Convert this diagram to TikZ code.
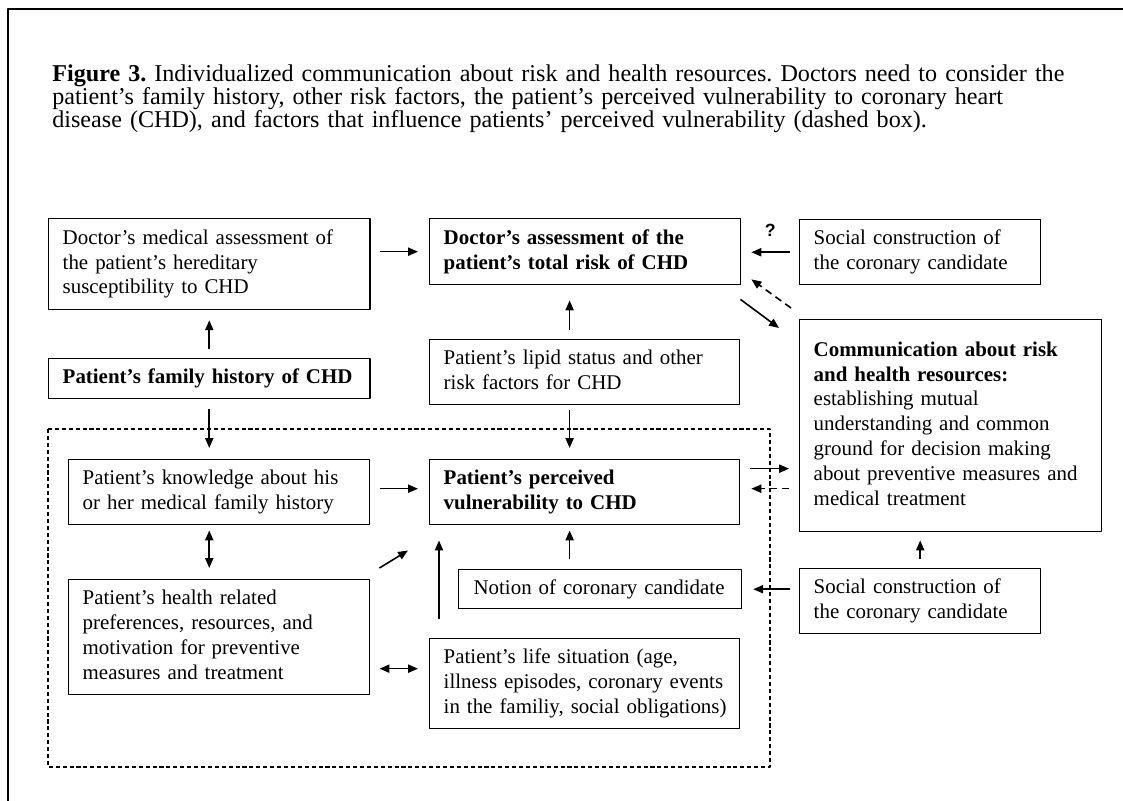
\documentclass[tikz,border=0pt]{standalone}
\usepackage{fontspec}
\setmainfont{Liberation Serif}
\setsansfont{Liberation Sans}
\usetikzlibrary{arrows.meta,calc}
\newcommand{\boxtext}[1]{\begin{tabular}{@{}l@{}}#1\end{tabular}}
\tikzset{
  pbox/.style={draw, line width=0.8pt, anchor=north west, align=left, inner xsep=7.9pt, inner ysep=0pt, font=\fontsize{11.8pt}{14pt}\selectfont},
  boldbox/.style={pbox, font=\fontsize{11.8pt}{14pt}\selectfont\bfseries},
  arr/.style={-{Triangle[length=5.6pt,width=4.6pt]}, line width=0.9pt},
  dblarr/.style={{Triangle[length=5.6pt,width=4.6pt]}-{Triangle[length=5.6pt,width=4.6pt]}, line width=0.9pt},
  dasharr/.style={arr, dash pattern=on 4pt off 2.8pt},
  region/.style={line width=0.6pt, dash pattern=on 2.3pt off 1.6pt}
}
\begin{document}
\begin{tikzpicture}[x=0.564pt, y=-0.564pt, line join=round]
\useasboundingbox (0,0) rectangle (1123,801);
% frame and caption
\draw[line width=0.6pt] (8,801) -- (8,9) -- (1123,9);
\node[anchor=north west, inner sep=0pt, text width=640pt, align=left, font=\fontsize{13.6pt}{13pt}\selectfont\frenchspacing] (caption) at (52,64)
  {\textbf{Figure 3.} Individualized communication about risk and health resources. Doctors need to consider the\\
   patient's family history, other risk factors, the patient's perceived vulnerability to coronary heart\\
   disease (CHD), and factors that influence patients' perceived vulnerability (dashed box).};
% dashed region
\draw[region] (48,429) rectangle (770,767);
% boxes
\node[pbox, text width=165.3pt, minimum height=51.3pt] (hered) at (48,218)
  {\boxtext{Doctor's medical assessment of\\ the patient's hereditary\\ susceptibility to CHD}};
\node[boldbox, text width=165.3pt, minimum height=22.6pt] (famhist) at (48,358)
  {\boxtext{Patient's family history of CHD}};
\node[boldbox, text width=159.6pt, minimum height=37.2pt] (doctor) at (429,218)
  {\boxtext{Doctor's assessment of the\\ patient's total risk of CHD}};
\node[pbox, text width=120.1pt, minimum height=36.7pt] (social1) at (799,219)
  {\boxtext{Social construction of\\ the coronary candidate}};
\node[pbox, text width=159pt, minimum height=36.7pt] (lipid) at (429,339)
  {\boxtext{Patient's lipid status and other\\ risk factors for CHD}};
\node[pbox, text width=154.5pt, minimum height=119.6pt] (comm) at (799,319)
  {\boxtext{\textbf{Communication about risk}\\ \textbf{and health resources:}\\ establishing mutual\\ understanding and common\\ ground for decision making\\ about preventive measures and\\ medical treatment}};
\node[pbox, text width=154pt, minimum height=36.7pt] (knowledge) at (68,459)
  {\boxtext{Patient's knowledge about his\\ or her medical family history}};
\node[boldbox, text width=159pt, minimum height=36.7pt] (perceived) at (429,459)
  {\boxtext{Patient's perceived\\ vulnerability to CHD}};
\node[pbox, text width=142.7pt, minimum height=22pt, inner xsep=8.4pt] (notion) at (458,569)
  {\boxtext{Notion of coronary candidate}};
\node[pbox, text width=154pt, minimum height=64.9pt] (prefs) at (68,579)
  {\boxtext{Patient's health related\\ preferences, resources, and\\ motivation for preventive\\ measures and treatment}};
\node[pbox, text width=159pt, minimum height=50.8pt] (life) at (429,638)
  {\boxtext{Patient's life situation (age,\\ illness episodes, coronary events\\ in the familiy, social obligations)}};
\node[pbox, text width=120.1pt, minimum height=36.7pt] (social2) at (799,568)
  {\boxtext{Social construction of\\ the coronary candidate}};
% helper points
\coordinate (midcol) at ([xshift=-8.5pt]perceived.south);
\coordinate (lw) at ([yshift=8.5pt]life.west);
\coordinate (pe) at ([yshift=13.3pt]perceived.east);
\coordinate (pe2) at ([yshift=2pt]perceived.east);
% connectors
\draw[arr, shorten <=5.1pt, shorten >=5.6pt] (famhist.north) -- (hered.south);
\draw[arr, shorten <=5.1pt, shorten >=6.2pt] (hered.east |- doctor.west) -- (doctor.west);
\draw[arr, shorten <=5.1pt, shorten >=8.5pt] (midcol |- lipid.north) -- (midcol |- doctor.south);
\draw[arr, shorten <=2.5pt, shorten >=6.2pt] (midcol |- lipid.south) -- (midcol |- perceived.north);
\draw[arr, shorten <=5.6pt, shorten >=6.2pt] (famhist.south) -- (famhist.south |- knowledge.north);
\draw[arr, shorten <=5.1pt, shorten >=6.2pt] ([yshift=2pt]knowledge.east) -- ([yshift=2pt]perceived.west);
\draw[dblarr, shorten <=2.8pt, shorten >=6.2pt] (famhist.south |- knowledge.south) -- (famhist.south |- prefs.north);
\draw[arr] ($(prefs.north east)+(9,-11)$) -- ($(perceived.south west)+(-21,25)$);
\draw[arr] ($(life.north west)+(10,-19)$) -- ($(perceived.south west)+(10,15)$);
\draw[arr, shorten <=5.6pt, shorten >=2.8pt] (midcol |- notion.north) -- (midcol);
\draw[dblarr, shorten <=5.1pt, shorten >=6.2pt] (prefs.east |- lw) -- (lw);
\draw[arr, shorten <=5.6pt, shorten >=5.6pt] (pe) -- (comm.west |- pe);
\draw[dasharr, shorten <=5.6pt, shorten >=6.2pt] (comm.west |- pe2) -- (pe2);
\draw[arr, shorten <=5.1pt, shorten >=6.2pt] (social2.west |- notion.east) -- (notion.east);
\draw[arr, shorten <=5.1pt, shorten >=4.5pt] (social2.north) -- (social2.north |- comm.south);
\draw[arr, shorten <=5.1pt, shorten >=5.6pt] (social1.west) -- (social1.west -| doctor.east)
  node[midway, above=8.5pt, inner sep=0pt, font=\fontsize{10pt}{12pt}\sffamily\bfseries] (qmark) {?};
\draw[arr] ($(doctor.south east)+(-1,14)$) -- ($(comm.north west)+(-20,9)$);
\draw[dasharr] ($(comm.north west)+(-8,-11)$) -- ($(doctor.south east)+(10,-6)$);
\end{tikzpicture}
\end{document}
